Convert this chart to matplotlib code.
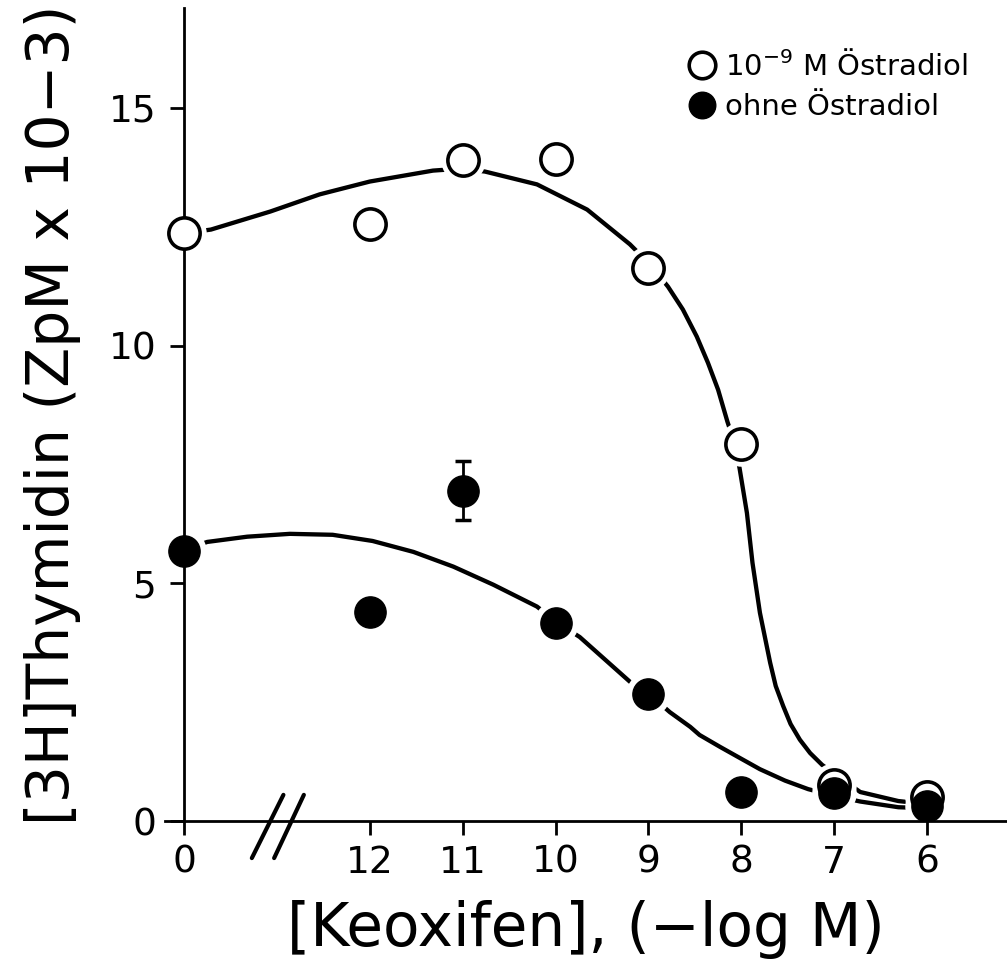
import matplotlib.pyplot as plt

# --- data ---
conc_labels = ['0', '12', '11', '10', '9', '8', '7', '6']   # -log M, "0" = control
tick_pos = [0, 2, 3, 4, 5, 6, 7, 8]                          # place on the broken axis

with_e2 = [12.36, 12.55, 13.90, 13.92, 11.64, 7.94, 0.76, 0.50]
without_e2 = [5.68, 4.40, 6.95, 4.17, 2.67, 0.61, 0.58, 0.32]
without_e2_err = [0, 0, 0.62, 0, 0, 0, 0, 0]

# fitted curves (x in axis tick units)
fit_with_x = [0.00, 0.29, 0.93, 1.46, 2.00, 2.68, 2.97, 3.24, 3.80, 4.34, 4.80, 5.02,
              5.21, 5.37, 5.52, 5.64, 5.75, 5.85, 5.93, 5.98, 6.06, 6.12, 6.20, 6.31,
              6.37, 6.45, 6.53, 6.63, 6.74, 6.87, 7.02, 7.28, 7.69, 7.98]
fit_with_y = [12.36, 12.44, 12.82, 13.18, 13.45, 13.68, 13.72, 13.66, 13.39, 12.86, 12.13, 11.70,
              11.24, 10.76, 10.19, 9.64, 9.07, 8.40, 7.92, 7.43, 6.48, 5.43, 4.38, 3.33,
              2.84, 2.42, 2.04, 1.71, 1.43, 1.18, 0.97, 0.61, 0.42, 0.36]
fit_without_x = [0.00, 0.25, 0.68, 1.14, 1.60, 2.03, 2.47, 2.90, 3.33, 3.80, 4.02, 4.26,
                 4.80, 5.02, 5.23, 5.45, 5.55, 5.77, 5.98, 6.20, 6.47, 6.72, 7.02, 7.28,
                 7.69, 7.98]
fit_without_y = [5.70, 5.87, 5.98, 6.04, 6.02, 5.89, 5.66, 5.35, 4.97, 4.51, 4.17, 3.87,
                 2.93, 2.65, 2.29, 1.98, 1.81, 1.56, 1.33, 1.09, 0.85, 0.67, 0.52, 0.41,
                 0.29, 0.27]

plt.rcParams['font.family'] = 'DejaVu Sans'

fig = plt.figure(figsize=(10.07, 9.76), dpi=100)
ax = fig.add_axes([0.1643, 0.1588, 0.8357, 0.833])

# curves
ax.plot(fit_with_x, fit_with_y, color='black', lw=3.1, zorder=2,
        solid_capstyle='round', solid_joinstyle='round')
ax.plot(fit_without_x, fit_without_y, color='black', lw=3.1, zorder=2,
        solid_capstyle='round', solid_joinstyle='round')

# white halos make the gaps in the curves around the points
ax.plot(tick_pos, with_e2, 'o', ms=32, color='white', mec='none', zorder=2.2)
ax.plot(tick_pos, without_e2, 'o', ms=32, color='white', mec='none', zorder=2.2)

# error bar
ax.errorbar(tick_pos, without_e2, yerr=without_e2_err, fmt='none', ecolor='black',
            elinewidth=2, capsize=6, capthick=2.5, zorder=2.3)

# points
ax.plot(tick_pos, with_e2, 'o', ms=22.5, mfc='white', mec='black', mew=2.6, zorder=3,
        label='10$^{-9}$ M Östradiol')
ax.plot(tick_pos, without_e2, 'o', ms=22.5, mfc='black', mec='black', mew=1, zorder=3.1,
        label='ohne Östradiol')

# axes look
ax.set_xlim(-0.2, 8.86)
ax.set_ylim(0, 17.1)
ax.spines['top'].set_visible(False)
ax.spines['right'].set_visible(False)
ax.spines['left'].set_position(('data', 0))
for s in ('left', 'bottom'):
    ax.spines[s].set_linewidth(2)
    ax.spines[s].set_zorder(2.5)

ax.set_xticks(tick_pos)
ax.set_xticklabels(conc_labels)
ax.set_yticks([0, 5, 10, 15])
ax.tick_params(axis='both', direction='out', length=10, width=2, labelsize=27)
ax.tick_params(axis='x', pad=7)
ax.tick_params(axis='y', pad=10)

# axis break marks
for x0, x1 in [(0.73, 1.07), (0.97, 1.29)]:
    ax.plot([x0, x1], [-0.78, 0.55], color='black', lw=3, clip_on=False, zorder=4,
            solid_capstyle='round')

ax.set_xlabel('[Keoxifen], (\u2212log M)', fontsize=43, labelpad=14)
ax.set_ylabel('[3H]Thymidin (ZpM x 10\u22123)', fontsize=42, labelpad=20)

ax.legend(loc='upper left', bbox_to_anchor=(0.625, 0.948), frameon=False, fontsize=21,
          markerscale=0.85, handlelength=0.7, handletextpad=0.45, labelspacing=0.4,
          borderaxespad=0, borderpad=0)

plt.savefig('out.png', dpi=100)
plt.close()
